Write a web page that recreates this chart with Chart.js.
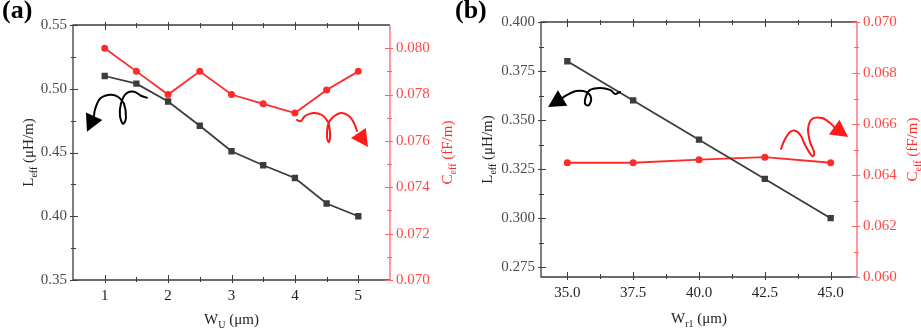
<!DOCTYPE html>
<html>
<head>
<meta charset="utf-8">
<script src="https://cdn.jsdelivr.net/npm/chart.js@4"></script>
<style>
  body { margin: 0; background: #fff; }
  #wrap { position: relative; width: 921px; height: 332px; overflow: hidden; }
  .panel { position: absolute; top: 0; height: 332px; }
  .lab { position: absolute; top: -3px; font: bold 26px "Liberation Serif"; line-height: 26px; color: #000; z-index: 2; }
</style>
</head>
<body>
<div id="wrap">
  <div class="panel" style="left:0;width:460px"><canvas id="chartA"></canvas></div>
  <div class="panel" style="left:460px;width:461px"><canvas id="chartB"></canvas></div>
  <div class="lab" style="left:2px">(a)</div>
  <div class="lab" style="left:455px">(b)</div>
</div>
<script>
// Panel (a): effective L and C against W_U
const wu = [1, 1.5, 2, 2.5, 3, 3.5, 4, 4.5, 5];
const leffA = [0.510, 0.504, 0.490, 0.471, 0.451, 0.440, 0.430, 0.410, 0.400];
const ceffA = [0.0800, 0.0790, 0.0780, 0.0790, 0.0780, 0.0776, 0.0772, 0.0782, 0.0790];

// Panel (b): effective L and C against W_r1
const wr1 = [35, 37.5, 40, 42.5, 45];
const leffB = [0.380, 0.360, 0.340, 0.320, 0.300];
const ceffB = [0.06448, 0.06448, 0.06460, 0.06470, 0.06448];

// tick labels
const xTicksA = [1, 2, 3, 4, 5];
const yLTicksA = [0.35, 0.40, 0.45, 0.50, 0.55];
const yRTicksA = [0.070, 0.072, 0.074, 0.076, 0.078, 0.080];
const xTicksB = [35, 37.5, 40, 42.5, 45];
const yLTicksB = [0.275, 0.300, 0.325, 0.350, 0.375, 0.400];
const yRTicksB = [0.060, 0.062, 0.064, 0.066, 0.068, 0.070];

Chart.defaults.font.family = "Liberation Serif";
Chart.defaults.font.size = 15;

const DARK = "#3c3c3c";
const RED = "#ff2a2a";
const RED_AXIS = "#ff6464";

function minorsOf(major, min, max) {
  const step = major[1] - major[0];
  const out = [];
  for (let v = major[0] - step / 2; v < max; v += step) {
    if (v > min + 1e-9 && v < max - 1e-9) out.push(v);
  }
  return out;
}

function drawRich(ctx, parts, x, y, rotated, color) {
  ctx.save();
  ctx.translate(x, y);
  if (rotated) ctx.rotate(-Math.PI / 2);
  ctx.fillStyle = color;
  ctx.textBaseline = "alphabetic";
  ctx.textAlign = "left";
  let total = 0;
  parts.forEach(p => {
    ctx.font = (p.sub ? 10 : 15) + 'px "Liberation Serif"';
    p.w = ctx.measureText(p.t).width;
    total += p.w;
  });
  let cx = -total / 2;
  parts.forEach(p => {
    ctx.font = (p.sub ? 10 : 15) + 'px "Liberation Serif"';
    ctx.fillText(p.t, cx, p.sub ? 4 : 0);
    cx += p.w;
  });
  ctx.restore();
}

// hand drawn curly arrow, tip anchored in data space, shape in px
function drawCurl(ctx, tx, ty, pts, color) {
  const p = pts.map(([dx, dy]) => [tx + dx, ty + dy]);
  ctx.save();
  ctx.strokeStyle = color;
  ctx.fillStyle = color;
  ctx.lineWidth = 2;
  ctx.lineCap = "round";
  ctx.beginPath();
  ctx.moveTo(p[0][0], p[0][1]);
  for (let i = 0; i < p.length - 1; i++) {
    const p0 = p[i - 1] || p[i], p1 = p[i], p2 = p[i + 1], p3 = p[i + 2] || p[i + 1];
    ctx.bezierCurveTo(
      p1[0] + (p2[0] - p0[0]) / 6, p1[1] + (p2[1] - p0[1]) / 6,
      p2[0] - (p3[0] - p1[0]) / 6, p2[1] - (p3[1] - p1[1]) / 6,
      p2[0], p2[1]);
  }
  ctx.stroke();
  const last = p[p.length - 1];
  let dx = tx - last[0], dy = ty - last[1];
  const len = Math.hypot(dx, dy);
  dx /= len; dy /= len;
  const bx = tx - dx * 17, by = ty - dy * 17;
  ctx.beginPath();
  ctx.moveTo(tx, ty);
  ctx.lineTo(bx - dy * 9, by + dx * 9);
  ctx.lineTo(bx + dy * 9, by - dx * 9);
  ctx.closePath();
  ctx.fill();
  ctx.restore();
}

function makePanel(id, cfg) {
  const xMinor = minorsOf(cfg.xTicks, cfg.xMin, cfg.xMax);
  const lMinor = minorsOf(cfg.lTicks, cfg.lMin, cfg.lMax);
  const rMinor = minorsOf(cfg.rTicks, cfg.rMin, cfg.rMax);

  const deco = {
    id: "deco" + id,
    afterDraw(chart) {
      const ctx = chart.ctx;
      const a = chart.chartArea;
      const sx = chart.scales.x, sl = chart.scales.yL, sr = chart.scales.yR;
      ctx.save();
      // frame
      ctx.lineWidth = 1.3;
      ctx.strokeStyle = DARK;
      ctx.beginPath();
      ctx.moveTo(a.right, a.top); ctx.lineTo(a.left, a.top);
      ctx.lineTo(a.left, a.bottom); ctx.lineTo(a.right, a.bottom);
      ctx.stroke();
      ctx.strokeStyle = RED_AXIS;
      ctx.beginPath();
      ctx.moveTo(a.right, a.top); ctx.lineTo(a.right, a.bottom);
      ctx.stroke();
      // ticks
      ctx.lineWidth = 1;
      const tick = (vals, scale, side, inLen, outLen, color) => {
        ctx.strokeStyle = color;
        ctx.beginPath();
        vals.forEach(v => {
          const p = Math.round(scale.getPixelForValue(v)) + 0.5;
          if (side === "bottom") { ctx.moveTo(p, a.bottom - inLen); ctx.lineTo(p, a.bottom + outLen); }
          if (side === "top") { ctx.moveTo(p, a.top + inLen); ctx.lineTo(p, a.top - outLen); }
          if (side === "left") { ctx.moveTo(a.left + inLen, p); ctx.lineTo(a.left - outLen, p); }
          if (side === "right") { ctx.moveTo(a.right - inLen, p); ctx.lineTo(a.right + outLen, p); }
        });
        ctx.stroke();
      };
      ["bottom", "top"].forEach(s => {
        tick(cfg.xTicks, sx, s, 5, 3, DARK);
        tick(xMinor, sx, s, 3, 2, DARK);
      });
      tick(cfg.lTicks, sl, "left", 5, 3, DARK);
      tick(lMinor, sl, "left", 3, 2, DARK);
      tick(cfg.rTicks, sr, "right", 5, 3, RED_AXIS);
      tick(rMinor, sr, "right", 3, 2, RED_AXIS);
      ctx.restore();

      // axis titles
      const midY = (a.top + a.bottom) / 2;
      drawRich(ctx, [{ t: "L" }, { t: "eff", sub: true }, { t: " (\u03bcH/m)" }], cfg.lTitleX, midY, true, "#222");
      drawRich(ctx, [{ t: "C" }, { t: "eff", sub: true }, { t: " (fF/m)" }], cfg.rTitleX, midY, true, RED);
      drawRich(ctx, [{ t: "W" }, { t: cfg.xSub, sub: true }, { t: " (\u03bcm)" }], (a.left + a.right) / 2, cfg.xTitleY, false, "#222");

      // curly arrows
      cfg.arrows.forEach(ar => {
        drawCurl(ctx, sx.getPixelForValue(ar.x), sl.getPixelForValue(ar.y), ar.path, ar.color);
      });
    }
  };

  const fixTicks = vals => axis => { axis.ticks = vals.map(v => ({ value: v })); };

  return new Chart(document.getElementById(id), {
    type: "line",
    data: {
      datasets: [
        {
          label: "Leff",
          data: cfg.xs.map((x, i) => ({ x: x, y: cfg.leff[i] })),
          yAxisID: "yL",
          borderColor: DARK,
          backgroundColor: DARK,
          borderWidth: 1.8,
          pointStyle: "rect",
          pointRadius: 3.2,
          tension: 0,
        },
        {
          label: "Ceff",
          data: cfg.xs.map((x, i) => ({ x: x, y: cfg.ceff[i] })),
          yAxisID: "yR",
          borderColor: RED,
          backgroundColor: RED,
          borderWidth: 1.8,
          pointStyle: "circle",
          pointRadius: 2.6,
          tension: 0,
        },
      ],
    },
    options: {
      responsive: true,
      maintainAspectRatio: false,
      animation: false,
      layout: { padding: { top: cfg.top, left: 0, right: 0, bottom: 0 } },
      plugins: { legend: { display: false }, tooltip: { enabled: false } },
      scales: {
        x: {
          type: "linear",
          min: cfg.xMin,
          max: cfg.xMax,
          afterBuildTicks: fixTicks(cfg.xTicks),
          afterFit: s => { s.height = cfg.xH; },
          grid: { display: false, drawTicks: false },
          border: { display: false },
          ticks: { autoSkip: false, maxRotation: 0, padding: 7, color: "#222", callback: v => cfg.xFmt(v) },
        },
        yL: {
          position: "left",
          min: cfg.lMin,
          max: cfg.lMax,
          afterBuildTicks: fixTicks(cfg.lTicks),
          afterFit: s => { s.width = cfg.lW; },
          grid: { display: false, drawTicks: false },
          border: { display: false },
          ticks: { padding: 6, color: "#4c4c4c", callback: v => v.toFixed(cfg.lDec) },
        },
        yR: {
          position: "right",
          min: cfg.rMin,
          max: cfg.rMax,
          afterBuildTicks: fixTicks(cfg.rTicks),
          afterFit: s => { s.width = cfg.rW; },
          grid: { display: false, drawTicks: false },
          border: { display: false },
          ticks: { padding: 6, color: "#ff4848", callback: v => v.toFixed(3) },
        },
      },
    },
    plugins: [deco],
  });
}

makePanel("chartA", {
  xs: wu, leff: leffA, ceff: ceffA,
  xMin: 0.5, xMax: 5.5, xTicks: xTicksA, xFmt: v => String(v), xSub: "U",
  lMin: 0.35, lMax: 0.55, lTicks: yLTicksA, lDec: 2,
  rMin: 0.070, rMax: 0.081, rTicks: yRTicksA,
  top: 25, xH: 52, lW: 73, rW: 70,
  lTitleX: 33, rTitleX: 452, xTitleY: 324,
  arrows: [
    { x: 0.72, y: 0.4663, color: "#000",
      path: [[60, -34], [54, -36], [47, -40], [39, -38], [34, -28], [33, -16], [36, -8], [39, -14], [37, -28], [31, -35], [23, -37], [13, -33], [8, -22], [7, -15]] },
    { x: 5.153, y: 0.4543, color: "#ff1a1a",
      path: [[-71, -27], [-67, -26], [-63, -31], [-55, -34], [-46, -32], [-40, -25], [-38, -14], [-39, -5], [-41, -10], [-40, -22], [-36, -29], [-27, -34], [-19, -31], [-14, -24], [-11, -16]] },
  ],
});

makePanel("chartB", {
  xs: wr1, leff: leffB, ceff: ceffB,
  xMin: 34, xMax: 46, xTicks: xTicksB, xFmt: v => v.toFixed(1), xSub: "r1",
  lMin: 0.27, lMax: 0.40, lTicks: yLTicksB, lDec: 3,
  rMin: 0.060, rMax: 0.070, rTicks: yRTicksB,
  top: 22, xH: 55, lW: 81, rW: 64,
  lTitleX: 32, rTitleX: 457, xTitleY: 323,
  arrows: [
    { x: 34.27, y: 0.3567, color: "#000",
      path: [[72, -15], [67, -13], [62, -17], [52, -19], [42, -17], [38, -11], [37, -3], [41, -2], [43, -9], [38, -15], [28, -16], [19, -12], [13, -8]] },
    { x: 45.66, y: 0.3414, color: "#ff1a1a",
      path: [[-67, 12], [-64, 4], [-58, -5], [-52, -6], [-47, -1], [-43, 8], [-36, 19], [-34, 15], [-38, 5], [-40, -8], [-36, -18], [-26, -19], [-18, -14], [-14, -10]] },
  ],
});
</script>
</body>
</html>
